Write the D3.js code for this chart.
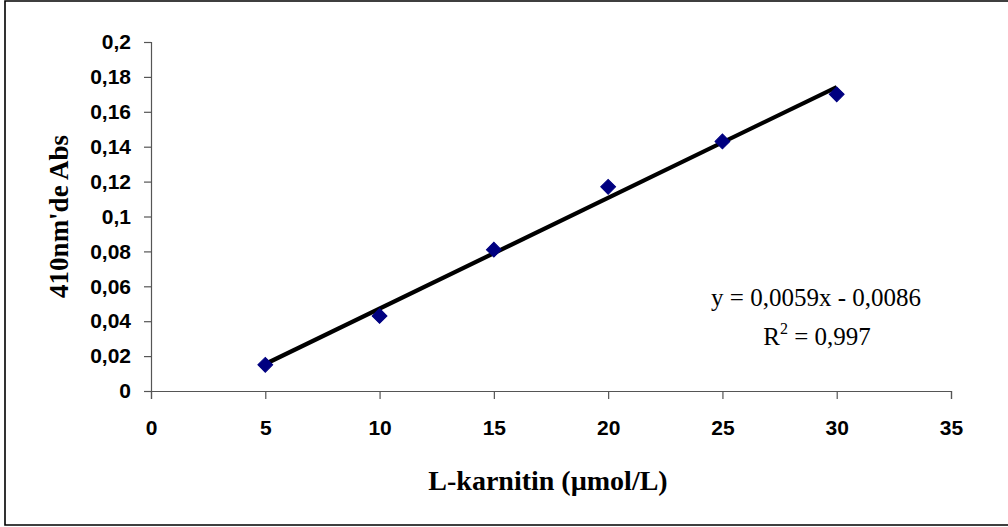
<!DOCTYPE html>
<html>
<head>
<meta charset="utf-8">
<script src="https://cdn.jsdelivr.net/npm/d3@7"></script>
<style>
  html, body { margin: 0; padding: 0; background: #fff; }
  svg { display: block; }
</style>
</head>
<body>
<svg id="chart" width="1008" height="527"></svg>
<script>
// L-karnitin concentration (µmol/L) and absorbance at 410 nm
const concentration = [5, 10, 15, 20, 25, 30];
const absorbance = [0.015, 0.043, 0.081, 0.117, 0.143, 0.170];

const xTicks = [0, 5, 10, 15, 20, 25, 30, 35];
const yTicks = [0, 0.02, 0.04, 0.06, 0.08, 0.1, 0.12, 0.14, 0.16, 0.18, 0.2];

const equationText = "y = 0,0059x - 0,0086";
const rSquaredText = " = 0,997";

const xTitle = "L-karnitin (\u00B5mol/L)";
const yTitle = "410nm'de Abs";

const W = 1008, H = 527;
const svg = d3.select("#chart");

// outer chart frame (open on the right edge)
svg.append("path")
  .attr("d", `M${W + 2},1 H5 V525 H${W + 2}`)
  .attr("fill", "none").attr("stroke", "#000").attr("stroke-width", 1.6);

const x = d3.scaleLinear().domain([0, 35]).range([151, 951]);
const y = d3.scaleLinear().domain([0, 0.2]).range([391, 42]);

const locale = d3.formatLocale({ decimal: ",", thousands: ".", grouping: [3], currency: ["", ""] });
const fmt = locale.format("~g");

// y axis
const yAxis = svg.append("g")
  .attr("transform", `translate(${x(0)},0)`)
  .call(d3.axisLeft(y).tickValues(yTicks).tickFormat(fmt).tickSize(7).tickPadding(13));

// x axis
const xAxis = svg.append("g")
  .attr("transform", `translate(0,${y(0)})`)
  .call(d3.axisBottom(x).tickValues(xTicks).tickFormat(fmt).tickSize(8).tickPadding(21));

[yAxis, xAxis].forEach(g => {
  g.select(".domain").attr("stroke", "#555").attr("stroke-width", 1.2);
  g.selectAll(".tick line").attr("stroke", "#555").attr("stroke-width", 1.2);
  g.selectAll(".tick text")
    .attr("fill", "#000")
    .style("font-family", "'Liberation Sans', Arial, sans-serif")
    .style("font-weight", "bold")
    .style("font-size", "21px");
});

// least-squares trendline through the measured points
const n = concentration.length;
const mx = d3.mean(concentration), my = d3.mean(absorbance);
let sxy = 0, sxx = 0;
for (let i = 0; i < n; i++) {
  sxy += (concentration[i] - mx) * (absorbance[i] - my);
  sxx += (concentration[i] - mx) ** 2;
}
const slope = sxy / sxx;
const intercept = my - slope * mx;
const xr = d3.extent(concentration);

svg.append("line")
  .attr("x1", x(xr[0])).attr("y1", y(slope * xr[0] + intercept))
  .attr("x2", x(xr[1])).attr("y2", y(slope * xr[1] + intercept))
  .attr("stroke", "#000").attr("stroke-width", 4.2);

// data markers (diamonds)
const diamond = d3.symbol().type(d3.symbolSquare).size(110);
svg.append("g").selectAll("path")
  .data(concentration.map((c, i) => [c, absorbance[i]]))
  .join("path")
  .attr("d", diamond)
  .attr("transform", d => `translate(${x(d[0])},${y(d[1])}) rotate(45)`)
  .attr("fill", "#000080")
  .attr("stroke", "#000080")
  .attr("stroke-width", 1);

// axis titles
svg.append("text")
  .attr("x", 548).attr("y", 490)
  .attr("text-anchor", "middle")
  .style("font-family", "'Liberation Serif', 'Times New Roman', serif")
  .style("font-weight", "bold")
  .style("font-size", "28px")
  .text(xTitle);

svg.append("text")
  .attr("transform", `translate(68,${(y(0) + y(0.2)) / 2}) rotate(-90)`)
  .attr("text-anchor", "middle")
  .style("font-family", "'Liberation Serif', 'Times New Roman', serif")
  .style("font-weight", "bold")
  .style("font-size", "27px")
  .text(yTitle);

// regression equation
const eq = svg.append("g")
  .style("font-family", "'Liberation Serif', 'Times New Roman', serif")
  .style("font-size", "25px")
  .attr("fill", "#000");

eq.append("text")
  .attr("x", 816).attr("y", 306)
  .attr("text-anchor", "middle")
  .text(equationText);

const r2 = eq.append("text")
  .attr("x", 817).attr("y", 345)
  .attr("text-anchor", "middle");
r2.append("tspan").text("R");
r2.append("tspan").attr("dy", -11).style("font-size", "16px").text("2");
r2.append("tspan").attr("dy", 11).text(rSquaredText);
</script>
</body>
</html>
